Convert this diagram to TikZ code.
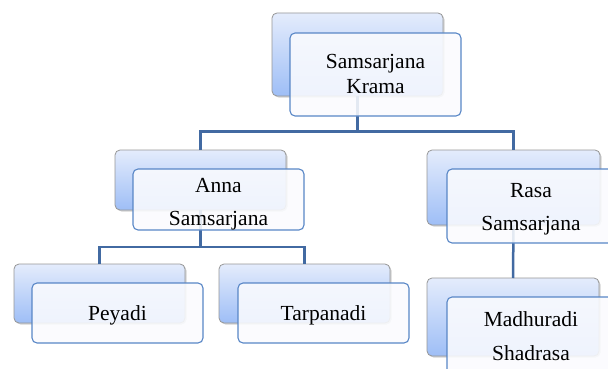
\documentclass[tikz,border=0pt]{standalone}
\usepackage{fontspec}
\setmainfont{Liberation Serif}
\usetikzlibrary{shadows}
\definecolor{backtop}{RGB}{228,236,252}
\definecolor{backbot}{RGB}{158,190,246}
\definecolor{backline}{RGB}{150,150,150}
\definecolor{frontline}{RGB}{88,134,198}
\definecolor{connc}{RGB}{66,106,162}
\definecolor{frontfill}{RGB}{250,251,254}
\tikzset{
  backbox/.style={draw=backline, line width=0.8pt, rounded corners=5pt,
    top color=backtop, bottom color=backbot, inner sep=0pt, outer sep=0pt,
    minimum width=171pt,
    drop shadow={shadow xshift=1.5pt, shadow yshift=-1.5pt, opacity=0.35}},
  frontbox/.style={draw=frontline, line width=1.1pt, rounded corners=5pt,
    fill=frontfill, fill opacity=0.88, inner sep=0pt, outer sep=0pt,
    minimum width=171pt},
  conn/.style={draw=connc, line width=2.5pt},
  txt/.style={anchor=base, inner sep=0pt, font=\fontsize{21.5pt}{26pt}\selectfont, text=black}
}
\begin{document}
\begin{tikzpicture}[x=1pt,y=1pt]
\useasboundingbox (0,0) rectangle (608,-369);
\clip (0,0) rectangle (608,-369);
% back boxes
\node[backbox, minimum height=83pt] (kB) at (357.5,-54.5) {};
\node[backbox, minimum height=60pt] (aB) at (200.5,-180) {};
\node[backbox, minimum height=75pt, minimum width=173pt] (rB) at (513.5,-187.5) {};
\node[backbox, minimum height=59pt] (pB) at (99.5,-293.5) {};
\node[backbox, minimum height=59pt] (tB) at (304.5,-293.5) {};
\node[backbox, minimum height=78pt, minimum width=172pt] (mB) at (513,-317) {};
% connectors
\coordinate (j1) at (357.5,-131.5);
\coordinate (j2) at (200.5,-247);
\draw[conn] (kB.south) -- (j1);
\draw[conn] (aB.north) |- (j1) -| (rB.north);
\draw[conn] (aB.south) -- (j2);
\draw[conn] (pB.north) |- (j2) -| (tB.north);
\draw[conn] (rB.south) -- (mB.north);
% front boxes
\node[frontbox, minimum height=83pt] (kF) at (375.5,-74.5) {};
\node[frontbox, minimum height=61pt] (aF) at (218.5,-199.5) {};
\node[frontbox, minimum height=74pt] (rF) at (532.5,-206) {};
\node[frontbox, minimum height=60pt] (pF) at (117.5,-313) {};
\node[frontbox, minimum height=60pt] (tF) at (323.5,-313) {};
\node[frontbox, minimum height=78pt] (mF) at (532.5,-336) {};
% texts
\node[txt] (k1) at (375.5,-68.5) {Samsarjana};
\node[txt] (k2) at (375.5,-93.5) {Krama};
\node[txt] (a1) at (218.5,-192) {Anna};
\node[txt] (a2) at (218.5,-225) {Samsarjana};
\node[txt] (r1) at (531,-197) {Rasa};
\node[txt] (r2) at (531,-230) {Samsarjana};
\node[txt] (p1) at (117.5,-320) {Peyadi};
\node[txt] (t1) at (323.5,-320) {Tarpanadi};
\node[txt] (m1) at (531,-326) {Madhuradi};
\node[txt] (m2) at (531,-360) {Shadrasa};
\end{tikzpicture}
\end{document}
